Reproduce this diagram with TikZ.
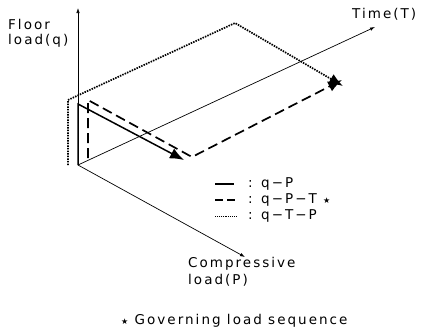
\documentclass[tikz,border=0pt]{standalone}
\usepackage{fontspec}
\setmainfont{DejaVu Sans}[LetterSpace=15]
\usetikzlibrary{arrows.meta}
\begin{document}
\begin{tikzpicture}[x=1pt,y=-1pt,
  axis/.style={line width=0.7pt,-{Latex[length=5pt,width=3.5pt]}},
  seqsolid/.style={line width=1.5pt},
  seqdash/.style={line width=1.7pt,dash pattern=on 10pt off 5pt},
  seqdot/.style={line width=1.7pt,dash pattern=on 1.5pt off 1.1pt},
  bigtip/.style={-{Latex[length=14pt,width=11pt]}},
  lbl/.style={font=\fontsize{13.5}{15}\selectfont, inner sep=0pt, anchor=west},
]
\useasboundingbox (0,0) rectangle (421,333);
% axes
\coordinate (O) at (78,165);
\coordinate (Qtip) at (78,8);
\coordinate (Ttip) at (375,27);
\coordinate (Ptip) at (245,257);
\draw[axis] (O) -- (Qtip);
\draw[axis] (O) -- (Ttip);
\draw[axis] (O) -- (Ptip);
% solid q-P
\coordinate (s1) at (78,104);
\coordinate (s2) at (184,160);
\draw[seqsolid,bigtip] (O) -- (s1) -- (s2);
% dashed q-P-T
\coordinate (d0) at (88,158);
\coordinate (d1) at (88,100);
\coordinate (d2) at (192,157);
\coordinate (d3) at (342,80);
\draw[seqdash,bigtip] (d0) -- (d1) -- (d2) -- (d3);
% dotted q-T-P
\coordinate (t0) at (68,165);
\coordinate (t1) at (68,100);
\coordinate (t2) at (235,23);
\coordinate (t3) at (343,86);
\draw[seqdot,bigtip] (t0) -- (t1) -- (t2) -- (t3);
% labels
\node[lbl] (floor) at (8,24) {Floor};
\node[lbl] (loadq) at (8,41) {load(q)};
\node[lbl] (time) at (352,14) {Time(T)};
\node[lbl] (comp) at (188,264) {Compressive};
\node[lbl] (loadp) at (188,280) {load(P)};
% legend
\coordinate (l1a) at (215,184); \coordinate (l1b) at (234,184);
\coordinate (l2a) at (215,200); \coordinate (l2b) at (236,200);
\coordinate (l3a) at (215,216); \coordinate (l3b) at (237,216);
\draw[seqsolid] (l1a) -- (l1b);
\draw[line width=1.7pt,dash pattern=on 8pt off 4pt] (l2a) -- (l2b);
\draw[line width=1pt,dash pattern=on 1pt off 0.9pt] (l3a) -- (l3b);
\node[lbl] (leg1) at (248,184) {: q−P};
\node[lbl] (leg2) at (248,200) {: q−P−T {\fontsize{8}{8}\selectfont ★}};
\node[lbl] (leg3) at (248,216) {: q−T−P};
\node[lbl] (note) at (121,321) {{\fontsize{8}{8}\selectfont ★} Governing load sequence};
\end{tikzpicture}
\end{document}
